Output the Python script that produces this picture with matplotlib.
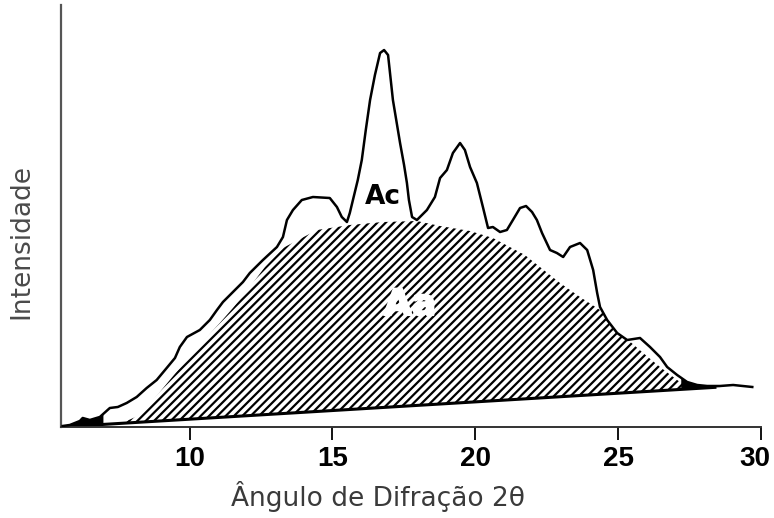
import numpy as np
import matplotlib.pyplot as plt
import matplotlib.patheffects as pe
from matplotlib.transforms import ScaledTranslation

# measured XRD trace: 2theta (deg) vs intensity (a.u.)
two_theta = [5.56, 5.81, 6.16, 6.26, 6.51, 6.86, 7.21, 7.49, 7.80, 8.15,
             8.50, 8.85, 9.20, 9.49, 9.66, 9.91, 10.36, 10.71, 10.96, 11.17,
             11.52, 11.87, 12.11, 12.57, 13.06, 13.27, 13.41, 13.62, 13.93, 14.32,
             14.91, 15.16, 15.33, 15.51, 15.61, 15.72, 15.89, 16.03, 16.17, 16.32,
             16.49, 16.67, 16.81, 16.95, 17.12, 17.37, 17.51, 17.61, 17.68, 17.79,
             17.96, 18.31, 18.59, 18.77, 19.01, 19.22, 19.47, 19.64, 19.82, 20.06,
             20.27, 20.45, 20.62, 20.87, 21.11, 21.32, 21.57, 21.78, 21.99, 22.16,
             22.34, 22.62, 22.86, 23.08, 23.32, 23.67, 23.92, 24.13, 24.27, 24.37,
             24.62, 24.97, 25.32, 25.77, 26.12, 26.47, 26.72, 27.07, 27.42, 27.77,
             28.12, 28.57, 29.03, 29.70]
intensity = [1, 2, 6, 9, 7, 10, 19, 20, 24, 30,
             39, 47, 59, 69, 80, 90, 97, 107, 117, 125,
             135, 145, 154, 167, 180, 190, 207, 217, 227, 230,
             229, 220, 210, 205, 214, 227, 247, 267, 297, 327,
             352, 374, 377, 372, 327, 284, 262, 244, 227, 210,
             207, 217, 230, 249, 257, 274, 284, 277, 260, 244,
             220, 199, 200, 195, 197, 207, 219, 221, 215, 207,
             194, 177, 174, 170, 180, 184, 177, 157, 134, 120,
             107, 94, 87, 89, 80, 70, 60, 52, 45, 42,
             41, 41, 42, 40]

# amorphous halo outline
halo_theta = [7.49, 8.26, 8.96, 9.66, 10.36, 11.06, 11.52, 12.11, 12.64, 13.27,
              14.46, 15.61, 16.77, 17.96, 18.77, 19.82, 20.62, 21.74, 22.97, 23.67,
              24.37, 25.07, 25.88, 26.47, 27.07, 27.42]
halo_int = [2, 12, 35, 59, 82, 104, 119, 140, 160, 179,
            197, 202, 205, 206, 201, 196, 189, 172, 144, 130,
            117, 94, 74, 60, 47, 40]

# linear background
base_theta = [5.5, 28.6]
base_int = [0, 40]

xticks = [10, 15, 20, 25, 30]

plt.rcParams['font.family'] = 'DejaVu Sans'
plt.rcParams['hatch.linewidth'] = 1.6
plt.rcParams['hatch.color'] = 'black'

fig = plt.figure(figsize=(7.74, 5.18), dpi=100)
ax = fig.add_axes([0.0788, 0.1757, 0.9042, 0.8146])

grid = np.linspace(5.5, 29.7, 1500)
curve_g = np.interp(grid, two_theta, intensity)
halo_g = np.interp(grid, halo_theta, halo_int)
base_g = np.interp(grid, base_theta, base_int)
top_g = np.minimum(curve_g, halo_g)

# hatched amorphous area (Aa)
in_halo = (grid >= halo_theta[0]) & (grid <= halo_theta[-1])
ax.fill_between(grid, base_g, top_g, where=in_halo, facecolor='white',
                edgecolor='black', hatch='////', linewidth=0, zorder=1)

# solid tails close to the background
tails = (grid <= 7.0) | ((grid >= 27.2) & (grid <= 28.6))
ax.fill_between(grid, base_g, np.maximum(curve_g, base_g), where=tails,
                color='black', linewidth=0, zorder=2)
on_base = (grid >= 5.6) & (grid <= 28.4)
ax.plot(grid[on_base], base_g[on_base], color='black', lw=2.2, zorder=2)

ax.plot(two_theta, intensity, color='black', lw=1.8, zorder=3)

ax.text(16.77, 230, 'Ac', ha='center', va='center', fontsize=19,
        fontweight='bold', color='black', zorder=4)
ax.text(17.72, 122, 'Aa', ha='center', va='center', fontsize=26,
        fontweight='bold', color='white', zorder=4,
        path_effects=[pe.withStroke(linewidth=1.5, foreground='white')])

ax.set_xlim(5.5, 30)
ax.set_ylim(0, 422)
ax.set_xticks(xticks)
ax.set_xticklabels([str(t) for t in xticks], fontsize=20, fontweight='bold',
                   family='Liberation Sans')
ax.set_yticks([])
ax.tick_params(axis='x', direction='out', length=9.5, width=1.3, pad=4,
               colors='black')
# last label sits a little left of its tick so it stays inside the figure
last = ax.get_xticklabels()[-1]
last.set_transform(last.get_transform() + ScaledTranslation(-6 / 100, 0, fig.dpi_scale_trans))

for side in ['top', 'right']:
    ax.spines[side].set_visible(False)
ax.spines['left'].set_color('#555555')
ax.spines['left'].set_linewidth(1.6)
ax.spines['bottom'].set_color('#333333')
ax.spines['bottom'].set_linewidth(1.4)

ax.set_xlabel('Ângulo de Difração 2θ', fontsize=19, color='#3a3a3a')
ax.xaxis.set_label_coords(0.453, -0.128)
ax.set_ylabel('Intensidade', fontsize=19, color='#4a4a4a')
ax.yaxis.set_label_coords(-0.038, 0.44)

fig.savefig('out.png', dpi=100, facecolor='white')
